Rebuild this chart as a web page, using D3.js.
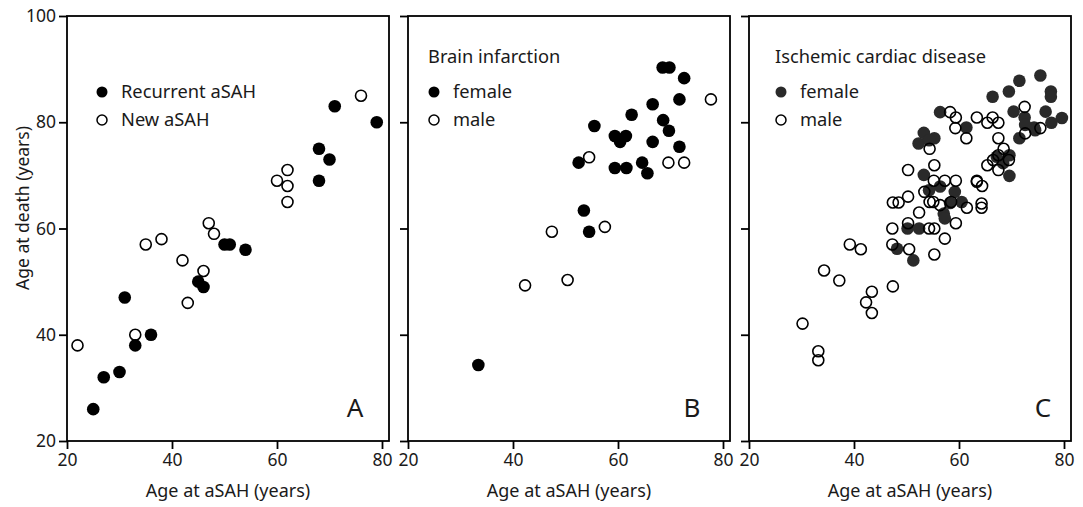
<!DOCTYPE html>
<html>
<head>
<meta charset="utf-8">
<script src="https://cdn.jsdelivr.net/npm/d3@7"></script>
<style>
  body { margin: 0; background: #fff; }
  text { font-family: "Noto Sans", "Open Sans", sans-serif; fill: #1a1a1a; }
</style>
</head>
<body>
<svg id="chart" width="1083" height="507"></svg>
<script>
// ---- data (age at aSAH, age at death) ----
var recurrentASAH = [[71,83],[79,80],[68,75],[70,73],[68,69],[50,57],[51,57],[54,56],[45,50],[46,49],
  [31,47],[36,40],[33,38],[27,32],[30,33],[25,26]];
var newASAH = [[76,85],[62,71],[60,69],[62,68],[62,65],[47,61],[48,59],[35,57],[38,58],[42,54],
  [46,52],[43,46],[33,40],[22,38]];

var infarctFemale = [[68.5,90.3],[69.8,90.3],[72.6,88.3],[71.7,84.3],[66.6,83.4],[62.6,81.4],[68.6,80.4],
  [69.7,78.4],[55.5,79.3],[59.4,77.4],[61.5,77.4],[60.4,76.3],[66.6,76.3],[71.7,75.4],[52.5,72.4],
  [59.4,71.4],[61.6,71.4],[64.6,72.4],[65.6,70.4],[53.5,63.4],[54.5,59.4],[33.4,34.3]];
var infarctMale = [[77.7,84.3],[54.5,73.4],[69.6,72.4],[72.6,72.4],[57.5,60.3],[47.4,59.4],[42.3,49.3],[50.4,50.3]];

var cardiacFemale = [[75.5,88.8],[71.5,87.8],[69.5,85.8],[66.4,84.8],[77.5,85.8],[77.5,84.8],[70.4,82.0],
  [76.5,82.0],[79.6,80.8],[77.6,79.9],[72.5,80.9],[74.3,79.0],[71.5,77.0],[72.6,79.5],[74.5,78.5],
  [61.4,79.0],[56.4,81.9],[53.3,78.0],[55.3,77.0],[52.3,76.0],[54.3,76.6],[69.6,73.8],[69.6,69.9],
  [67.2,73.5],[68.4,72.3],[53.3,70.1],[56.4,67.9],[54.3,67.2],[59.2,66.9],[60.5,65.0],[58.3,64.8],
  [57.1,62.8],[57.3,61.9],[50.2,60.0],[52.4,60.0],[48.2,56.2],[51.3,54.0]];
var cardiacMale = [[72.5,82.9],[75.5,78.9],[72.6,77.9],[58.3,81.9],[59.4,80.9],[59.3,78.9],[61.4,77.0],
  [63.4,80.9],[65.4,79.9],[66.4,80.9],[67.5,79.9],[67.5,77.0],[68.5,75.0],[67.5,73.8],[66.5,72.9],
  [69.5,72.9],[65.4,71.9],[67.5,71.0],[63.4,69.0],[64.4,68.0],[54.4,75.0],[55.3,71.9],[50.3,71.0],
  [55.2,69.0],[57.3,69.0],[59.4,69.0],[53.4,66.9],[50.3,66.0],[47.4,64.9],[48.5,64.9],[52.4,63.0],
  [54.4,65.0],[55.1,65.0],[56.4,64.4],[58.5,65.0],[61.5,63.9],[59.4,61.0],[50.3,61.0],[47.3,60.0],
  [54.3,60.0],[55.3,60.0],[57.3,58.1],[47.3,57.0],[50.5,56.1],[55.3,55.1],[39.2,57.0],[41.3,56.1],
  [34.3,52.1],[37.2,50.2],[47.4,49.1],[43.4,48.1],[42.3,46.1],[43.4,44.1],[30.2,42.1],[33.2,36.9],
  [33.2,35.2],[64.3,64.7],[64.3,63.9],[63.4,68.8]];

var xTicks = [20, 40, 60, 80];
var yTicks = [20, 40, 60, 80, 100];

var panels = [
  {letter: "A", title: null, labels: ["Recurrent aSAH", "New aSAH"], filled: recurrentASAH, open: newASAH, color: "#000"},
  {letter: "B", title: "Brain infarction", labels: ["female", "male"], filled: infarctFemale, open: infarctMale, color: "#000"},
  {letter: "C", title: "Ischemic cardiac disease", labels: ["female", "male"], filled: cardiacFemale, open: cardiacMale, color: "#2a2a2a"}
];

(function(){
  // ---- layout ----
  var svg = d3.select("#chart");
  var plotTop = 16, h = 425, w = 322;
  var lefts = [67, 408, 749];
  var letterX = [288, 284, 294];
  var legendX = [35, 26, 32];

  var x = d3.scaleLinear().domain([20, 80]).range([0, 315]);
  var y = d3.scaleLinear().domain([20, 100]).range([h, 0]);

  panels.forEach(function(p, i){
    var g = svg.append("g").attr("transform", "translate(" + lefts[i] + "," + plotTop + ")");

    // frame
    g.append("rect").attr("x", 0).attr("y", 0).attr("width", w).attr("height", h)
      .attr("fill", "none").attr("stroke", "#000").attr("stroke-width", 1.8);

    // x axis
    var xa = g.append("g").attr("transform", "translate(0," + h + ")")
      .call(d3.axisBottom(x).tickValues(xTicks).tickSize(8).tickPadding(5).tickFormat(d3.format("d")));
    // y axis
    var ya = g.append("g")
      .call(d3.axisLeft(y).tickValues(yTicks).tickSize(8).tickPadding(3).tickFormat(i === 0 ? d3.format("d") : ""));
    [xa, ya].forEach(function(a){
      a.select(".domain").remove();
      a.selectAll("line").attr("stroke", "#000").attr("stroke-width", 1.8);
      a.selectAll("text").style("font-size", "17.5px").style("font-family", "'Noto Sans', sans-serif").attr("fill", "#1a1a1a");
    });

    // points
    g.selectAll(".f").data(p.filled).enter().append("circle")
      .attr("cx", function(d){ return x(d[0]); })
      .attr("cy", function(d){ return y(d[1]); })
      .attr("r", 6.3).attr("fill", p.color);
    g.selectAll(".o").data(p.open).enter().append("circle")
      .attr("cx", function(d){ return x(d[0]); })
      .attr("cy", function(d){ return y(d[1]); })
      .attr("r", 5.5).attr("fill", "none").attr("stroke", "#000").attr("stroke-width", 1.6);

    // legend
    var ly = 76, lx = legendX[i];
    if (p.title) {
      g.append("text").attr("x", lx - 6).attr("y", 47).style("font-size", "18.3px").text(p.title);
    }
    g.append("circle").attr("cx", lx).attr("cy", ly).attr("r", 5.5).attr("fill", p.color);
    g.append("circle").attr("cx", lx).attr("cy", ly + 28).attr("r", 5).attr("fill", "none")
      .attr("stroke", "#000").attr("stroke-width", 1.5);
    g.append("text").attr("x", lx + 19).attr("y", ly + 6).style("font-size", "18.3px").text(p.labels[0]);
    g.append("text").attr("x", lx + 19).attr("y", ly + 34).style("font-size", "18.3px").text(p.labels[1]);

    // panel letter
    g.append("text").attr("x", letterX[i]).attr("y", h - 24).attr("text-anchor", "middle")
      .style("font-size", "26px").text(p.letter);

    // x label
    g.append("text").attr("x", w / 2).attr("y", h + 56).attr("text-anchor", "middle")
      .style("font-size", "18px").text("Age at aSAH (years)");
  });

  svg.append("text").attr("transform", "translate(29,208) rotate(-90)").attr("text-anchor", "middle")
    .style("font-size", "17.5px").text("Age at death (years)");
})();
</script>
</body>
</html>
